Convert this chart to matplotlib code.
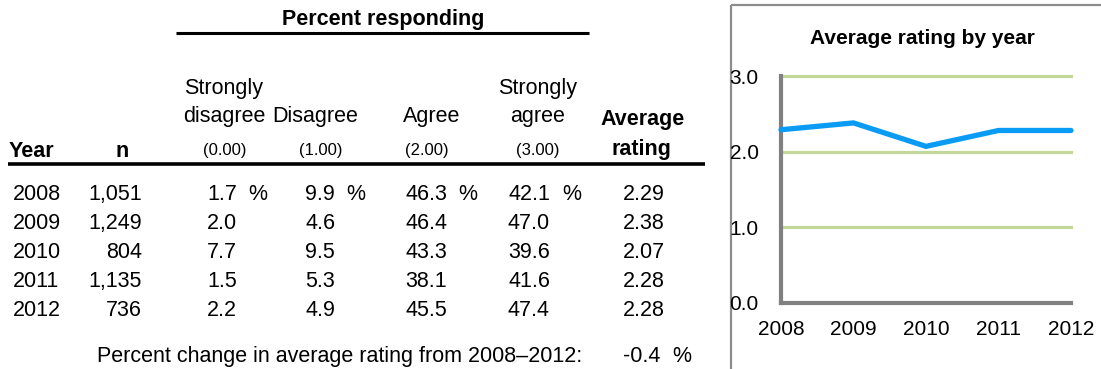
import matplotlib
matplotlib.use("Agg")
import matplotlib.pyplot as plt
from matplotlib.patches import Rectangle

plt.rcParams['font.family'] = ['Liberation Sans', 'DejaVu Sans']

years = [2008, 2009, 2010, 2011, 2012]
n_resp = ["1,051", "1,249", "804", "1,135", "736"]
strongly_disagree = [1.7, 2.0, 7.7, 1.5, 2.2]
disagree = [9.9, 4.6, 9.5, 5.3, 4.9]
agree = [46.3, 46.4, 43.3, 38.1, 45.5]
strongly_agree = [42.1, 47.0, 39.6, 41.6, 47.4]
avg_rating = [2.29, 2.38, 2.07, 2.28, 2.28]
pct_change = -0.4
y_ticks = [0.0, 1.0, 2.0, 3.0]

W, H = 1101, 369
fig = plt.figure(figsize=(W / 100, H / 100), dpi=100)
bg = fig.add_axes([0, 0, 1, 1])
bg.set_xlim(0, W)
bg.set_ylim(H, 0)
bg.axis('off')

FS = 15.5
FS_SMALL = 12

# Title of table
bg.text(383, 25, "Percent responding", ha='center', va='baseline', fontsize=FS,
        fontweight='bold')
bg.plot([176, 589], [33, 33], color='black', lw=2.2, solid_capstyle='butt')

# Column headers
bg.text(224, 94, "Strongly", ha='center', va='baseline', fontsize=FS)
bg.text(224, 122, "disagree", ha='center', va='baseline', fontsize=FS)
bg.text(315, 122, "Disagree", ha='center', va='baseline', fontsize=FS)
bg.text(432, 122, "Agree", ha='center', va='baseline', fontsize=FS)
bg.text(538, 94, "Strongly", ha='center', va='baseline', fontsize=FS)
bg.text(538, 122, "agree", ha='center', va='baseline', fontsize=FS)
bg.text(643, 125, "Average", ha='center', va='baseline', fontsize=FS, fontweight='bold')
bg.text(641, 155, "rating", ha='center', va='baseline', fontsize=FS, fontweight='bold')
bg.text(9, 157, "Year", ha='left', va='baseline', fontsize=FS, fontweight='bold')
bg.text(122, 157, "n", ha='center', va='baseline', fontsize=FS, fontweight='bold')
for x, lab in zip([225, 321, 427, 538], ["(0.00)", "(1.00)", "(2.00)", "(3.00)"]):
    bg.text(x, 155, lab, ha='center', va='baseline', fontsize=FS_SMALL)
bg.plot([8, 705], [164, 164], color='black', lw=2.6, solid_capstyle='butt')

# Data rows
row_base = [200, 229, 258, 287, 316]
col_right = [237, 335, 447, 550]
pct_left = [248, 346, 458, 562]
cols = [strongly_disagree, disagree, agree, strongly_agree]
for i, yb in enumerate(row_base):
    bg.text(13, yb, str(years[i]), ha='left', va='baseline', fontsize=FS)
    bg.text(142, yb, n_resp[i], ha='right', va='baseline', fontsize=FS)
    for c, col in enumerate(cols):
        bg.text(col_right[c], yb, f"{col[i]:.1f}", ha='right', va='baseline', fontsize=FS)
        if i == 0:
            bg.text(pct_left[c], yb, "%", ha='left', va='baseline', fontsize=FS)
    bg.text(665, yb, f"{avg_rating[i]:.2f}", ha='right', va='baseline', fontsize=FS)

bg.text(582, 362, "Percent change in average rating from 2008\u20132012:", ha='right',
        va='baseline', fontsize=FS)
bg.text(660, 362, f"{pct_change:.1f}", ha='right', va='baseline', fontsize=FS)
bg.text(672, 362, "%", ha='left', va='baseline', fontsize=FS)

# Chart panel border
bg.add_patch(Rectangle((731, 5), 400, 400, fill=False, edgecolor='#8c8c8c', lw=1.6))
bg.text(922, 44, "Average rating by year", ha='center', va='baseline', fontsize=15,
        fontweight='bold')

# Line chart
L, R, T, B = 781, 1071, 76, 303
ax = fig.add_axes([L / W, (H - B) / H, (R - L) / W, (B - T) / H])
ax.set_xlim(years[0], years[-1])
ax.set_ylim(0, 3)
for yv in y_ticks[1:]:
    ax.axhline(yv, color='#c4d79b', lw=2.3, zorder=1, clip_on=False)
ax.plot(years, avg_rating, color='#0a9bf5', lw=3.8, solid_capstyle='round',
        solid_joinstyle='miter', zorder=3, clip_on=False)
for s in ['top', 'right']:
    ax.spines[s].set_visible(False)
for s in ['left', 'bottom']:
    ax.spines[s].set_color('#808080')
    ax.spines[s].set_linewidth(3)
    ax.spines[s].set_zorder(2)
ax.set_yticks(y_ticks)
ax.set_yticklabels([f"{v:.1f}" for v in y_ticks])
ax.set_xticks(years)
ax.set_xticklabels([str(y) for y in years])
ax.tick_params(axis='both', length=0, labelsize=15)
ax.tick_params(axis='y', pad=16)
ax.tick_params(axis='x', pad=12)
ax.patch.set_visible(False)

fig.savefig("out.png", dpi=100)
